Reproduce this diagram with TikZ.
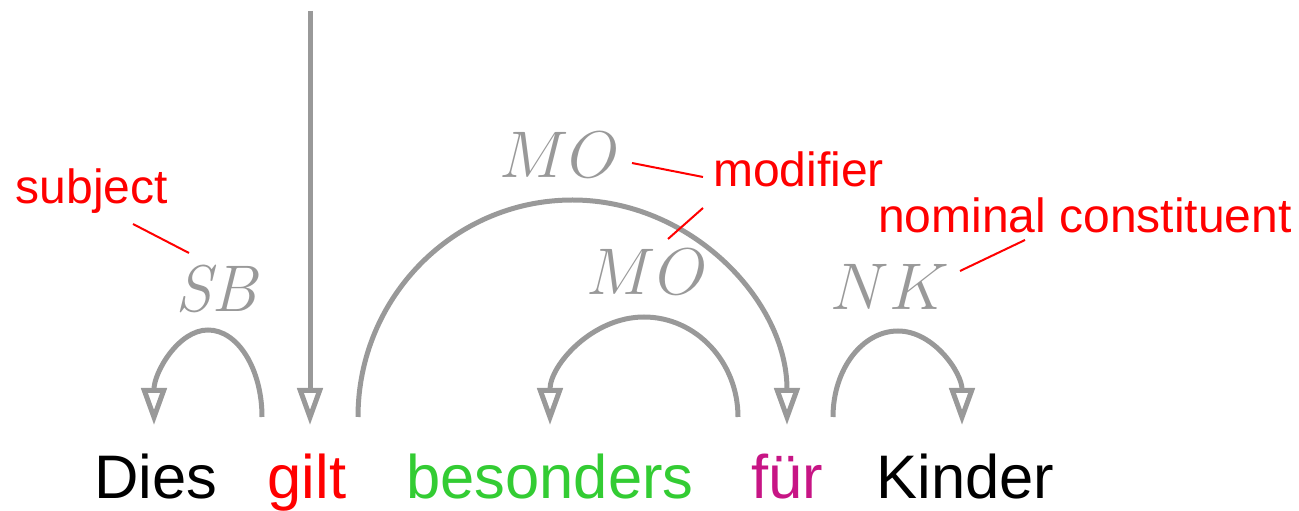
\RequirePackage{fix-cm}
\documentclass[tikz,border=0pt]{standalone}
\usepackage{fontspec}
\newfontfamily\wordfont{Liberation Sans}
\usetikzlibrary{arrows.meta,calc}
\definecolor{deparc}{RGB}{153,153,153}
\definecolor{wordred}{RGB}{255,0,0}
\definecolor{wordgreen}{RGB}{51,204,51}
\definecolor{wordmagenta}{RGB}{199,21,133}
\definecolor{notered}{RGB}{255,0,0}

\begin{document}
\begin{tikzpicture}[x=1pt,y=1pt,
  word/.style={inner sep=0pt, anchor=base, font=\wordfont\fontsize{61.5}{70}\selectfont},
  rel/.style={inner sep=0pt, anchor=base, text=deparc, font=\fontsize{66}{72}\selectfont},
  note/.style={inner sep=0pt, anchor=base, text=notered, font=\wordfont\fontsize{48}{54}\selectfont},
  dep/.style={draw=deparc, line width=5pt, -{Triangle[open, length=37pt, width=25pt]}},
  leader/.style={draw=notered, line width=2pt}]

\useasboundingbox (0,0) rectangle (1299,511);

% sentence
\node[word] (dies) at (156,12) {Dies};
\node[word, text=wordred] (gilt) at (307,12) {gilt};
\node[word, text=wordgreen] (besonders) at (550,12) {besonders};
\node[word, text=wordmagenta] (fuer) at (787,12) {für};
\node[word] (kinder) at (965.5,12) {Kinder};

% attachment points above the words
\coordinate (root) at (310,500);
\coordinate (gilt-in) at ($(gilt.base)+(3,74)$);
\coordinate (gilt-left) at ($(gilt.base)+(-45,82)$);
\coordinate (gilt-right) at ($(gilt.base)+(51,82)$);
\coordinate (dies-in) at ($(dies.base)+(-2,74)$);
\coordinate (besonders-in) at ($(besonders.base)+(0,74)$);
\coordinate (fuer-left) at ($(fuer.base)+(-49,82)$);
\coordinate (fuer-in) at ($(fuer.base)+(0,74)$);
\coordinate (fuer-right) at ($(fuer.base)+(46,82)$);
\coordinate (kinder-in) at ($(kinder.base)+(-3.5,74)$);

% apex of each arc
\coordinate (sb-top) at (208,181);
\coordinate (mo-outer-top) at (572.5,311);
\coordinate (mo-inner-top) at (644,194);
\coordinate (nk-top) at (898,180);

% dependency arcs
\draw[dep] (root) -- (gilt-in);
\draw[dep] (gilt-left) .. controls +(0,48) and +(29.8,0) .. (sb-top)
                       .. controls +(-29.8,0) and +(0,52.4) .. (dies-in);
\draw[dep] (gilt-right) .. controls +(0,119.8) and +(-118.4,0) .. (mo-outer-top)
                        .. controls +(118.4,0) and +(0,124.2) .. (fuer-in);
\draw[dep] (fuer-left) .. controls +(0,55.2) and +(51.9,0) .. (mo-inner-top)
                       .. controls +(-51.9,0) and +(0,59.6) .. (besonders-in);
\draw[dep] (fuer-right) .. controls +(0,47.5) and +(-35.9,0) .. (nk-top)
                        .. controls +(35.9,0) and +(0,51.9) .. (kinder-in);

% relation labels
\node[rel] (sb) at (216,199) {\itshape SB};
\node[rel] (mo-outer) at (559.5,333) {$MO$};
\node[rel] (mo-inner) at (647,216) {$MO$};
\node[rel] (nk) at (890,201) {$NK$};

% annotations
\node[note] (n-subject) at (92,307) {subject};
\node[note] (n-modifier) at (798.5,324) {modifier};
\node[note] (n-nominal) at (1085,278) {nominal constituent};

\coordinate (subject-a) at (133,287);
\coordinate (subject-b) at (189,258);
\coordinate (modifier-a) at (703,334);
\coordinate (modifier-b) at (632,348);
\coordinate (modifier-c) at (703,303);
\coordinate (modifier-d) at (668,272);
\coordinate (nominal-a) at (1025,271);
\coordinate (nominal-b) at (960,240);

\draw[leader] (subject-a) -- (subject-b);
\draw[leader] (modifier-a) -- (modifier-b);
\draw[leader] (modifier-c) -- (modifier-d);
\draw[leader] (nominal-a) -- (nominal-b);
\end{tikzpicture}
\end{document}
